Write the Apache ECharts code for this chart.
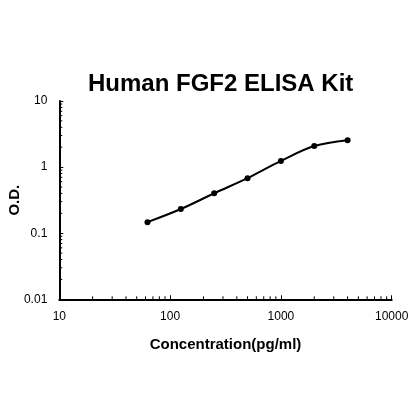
<!DOCTYPE html>
<html><head><meta charset="utf-8">
<script src="https://cdn.jsdelivr.net/npm/echarts@6/dist/echarts.min.js"></script>
<style>html,body{margin:0;padding:0;background:#fff}#c{width:419px;height:420px}</style>
</head><body><div id="c"></div>
<script>
var concentrations = [62.5, 125, 250, 500, 1000, 2000, 4000];
var odValues = [0.147, 0.232, 0.402, 0.68, 1.24, 2.08, 2.55];
var xTickLabels = [10, 100, 1000, 10000];
var yTickLabels = [0.01, 0.1, 1, 10];
var xMinorTicks = [20,30,40,50,60,70,80,90,200,300,400,500,600,700,800,900,2000,3000,4000,5000,6000,7000,8000,9000];
var yMinorTicks = [0.02,0.03,0.04,0.05,0.06,0.07,0.08,0.09,0.2,0.3,0.4,0.5,0.6,0.7,0.8,0.9,2,3,4,5,6,7,8,9];

var FONT = '"Liberation Sans", Arial, sans-serif';
var chart = echarts.init(document.getElementById('c'), null, {renderer: 'canvas'});
function fmt(v){ return String(+Number(v).toPrecision(3)); }
var pts = concentrations.map(function(c,i){ return [c, odValues[i]]; });

chart.setOption({
  animation: false,
  backgroundColor: '#fff',
  title: {
    text: 'Human FGF2 ELISA Kit',
    left: 83, top: 67, padding: 5,
    textStyle: {fontFamily: FONT, fontSize: 24, fontWeight: 'bold', color: '#000'}
  },
  grid: {left: 59.3, right: 27.3, top: 101, bottom: 120.7, containLabel: false, outerBoundsMode: 'none'},
  xAxis: {
    type: 'log', logBase: 10, min: xTickLabels[0], max: xTickLabels[xTickLabels.length-1],
    name: 'Concentration(pg/ml)', nameLocation: 'middle', nameGap: 38, nameMoveOverlap: false,
    nameTextStyle: {fontFamily: FONT, fontSize: 15, fontWeight: 'bold', color: '#000'},
    axisLine: {lineStyle: {color: '#000', width: 2}},
    axisTick: {inside: true, length: 4, lineStyle: {color: '#000', width: 1}},
    axisLabel: {fontFamily: FONT, fontSize: 12, color: '#000', margin: 11, formatter: fmt},
    splitLine: {show: false}
  },
  yAxis: {
    type: 'log', logBase: 10, min: yTickLabels[0], max: yTickLabels[yTickLabels.length-1],
    name: 'O.D.', nameLocation: 'middle', nameGap: 37, nameRotate: 90, nameMoveOverlap: false,
    nameTextStyle: {fontFamily: FONT, fontSize: 15, fontWeight: 'bold', color: '#000'},
    axisLine: {lineStyle: {color: '#000', width: 2}},
    axisTick: {inside: true, length: 4, lineStyle: {color: '#000', width: 1}},
    axisLabel: {fontFamily: FONT, fontSize: 12, color: '#000', margin: 12, formatter: fmt},
    splitLine: {show: false}
  },
  series: [
    {
      type: 'line', data: pts, smooth: 0.35,
      symbol: 'circle', symbolSize: 6,
      itemStyle: {color: '#000'},
      lineStyle: {color: '#000', width: 2}
    },
    {
      type: 'custom', clip: false, silent: true,
      data: xMinorTicks.map(function(v){ return [v, yTickLabels[0]]; }),
      renderItem: function(params, api){
        var p = api.coord([api.value(0), api.value(1)]);
        return {type: 'line', shape: {x1: p[0], y1: p[1], x2: p[0], y2: p[1]-3},
          style: {stroke: '#000', lineWidth: 1}};
      }
    },
    {
      type: 'custom', clip: false, silent: true,
      data: yMinorTicks.map(function(v){ return [xTickLabels[0], v]; }),
      renderItem: function(params, api){
        var p = api.coord([api.value(0), api.value(1)]);
        return {type: 'line', shape: {x1: p[0], y1: p[1], x2: p[0]+3, y2: p[1]},
          style: {stroke: '#000', lineWidth: 1}};
      }
    }
  ]
});
</script></body></html>
